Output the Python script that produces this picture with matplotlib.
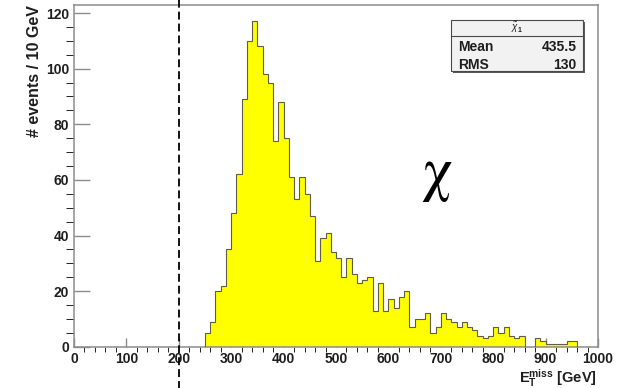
import numpy as np

from matplotlib import pyplot as plt
from matplotlib.patches import Rectangle
from matplotlib.ticker import MultipleLocator

# Missing transverse energy spectrum, 10 GeV bins starting at 250 GeV.
binStart = 250
binWidth = 10
counts = [5, 9, 20, 22, 35, 48, 62, 89, 110, 117,
          108, 98, 95, 74, 88, 75, 61, 53, 61, 55,
          47, 31, 39, 41, 34, 32, 25, 32, 26, 23,
          24, 25, 13, 23, 13, 17, 14, 18, 20, 7,
          10, 10, 12, 5, 7, 12, 10, 9, 7, 9,
          7, 6, 4, 3, 4, 7, 5, 7, 4, 3,
          4, 0, 0, 3, 2, 1, 1, 1, 1, 2,
          2]

cutValue = 200
statsTitle = r"$\tilde{\chi}_1$"
statsNames = ["Mean", "RMS"]
statsValues = ["435.5", "130"]

xRange = (0, 1000)
yRange = (0, 123)

frameColor = '#8c8c8c'
textColor = '#1e1e1e'


def binEdges(start, width, n):
    return start + width * np.arange(n + 1)


def drawStatsBox(ax):
    # box sits in the upper right corner, drawn in axes fractions
    x0, x1 = 0.7195, 0.9714
    y0, y1 = 0.8061, 0.9553
    ySplit = 0.9094
    ax.add_patch(Rectangle((x0 + 0.004, y0 - 0.006), x1 - x0, y1 - y0, transform=ax.transAxes,
                           facecolor='#5a5a5a', edgecolor='none', zorder=5, clip_on=False))
    ax.add_patch(Rectangle((x0, y0), x1 - x0, y1 - y0, transform=ax.transAxes,
                           facecolor='#f2f2f2', edgecolor='#4a4a4a', linewidth=0.8, zorder=6, clip_on=False))
    ax.plot([x0, x1], [ySplit, ySplit], transform=ax.transAxes, color='#4a4a4a', linewidth=0.8,
            zorder=7, clip_on=False)
    ax.text((x0 + x1) / 2, (ySplit + y1) / 2, statsTitle, transform=ax.transAxes, ha='center', va='center',
            fontsize=7, color=textColor, zorder=8)
    rowY = [0.875, 0.823]
    for name, value, y in zip(statsNames, statsValues, rowY):
        ax.text(x0 + 0.013, y, name, transform=ax.transAxes, ha='left', va='center',
                fontsize=10, fontweight='bold', color=textColor, zorder=8)
        ax.text(x1 - 0.012, y, value, transform=ax.transAxes, ha='right', va='center',
                fontsize=10, fontweight='bold', color=textColor, zorder=8)


def main():
    plt.rcParams['font.family'] = ['Liberation Sans', 'DejaVu Sans']
    plt.rcParams['mathtext.fontset'] = 'custom'
    plt.rcParams['mathtext.rm'] = 'Liberation Sans:bold'
    plt.rcParams['mathtext.bf'] = 'Liberation Sans:bold'
    plt.rcParams['mathtext.it'] = 'Liberation Sans:italic'

    fig = plt.figure(figsize=(6.32, 3.88), dpi=100)
    ax = fig.add_axes([0.1171, 0.1064, 0.8291, 0.8814])

    edges = binEdges(binStart, binWidth, len(counts))
    ax.stairs(counts, edges, fill=True, color='#ffff00', zorder=2)
    ax.stairs(counts, edges, baseline=0, color='#5e5e48', linewidth=0.8, zorder=3)

    ax.set_xlim(*xRange)
    ax.set_ylim(*yRange)

    for side in ax.spines.values():
        side.set_color(frameColor)
        side.set_linewidth(1.1)

    ax.xaxis.set_major_locator(MultipleLocator(100))
    ax.xaxis.set_minor_locator(MultipleLocator(20))
    ax.yaxis.set_major_locator(MultipleLocator(20))
    ax.yaxis.set_minor_locator(MultipleLocator(5))
    ax.tick_params(direction='in', color=frameColor, labelcolor=textColor, labelsize=10, width=1.0)
    ax.tick_params(axis='x', which='major', length=6.5, pad=4.0)
    ax.tick_params(axis='x', which='minor', length=3.6)
    ax.tick_params(axis='y', which='major', length=11.5, pad=3.5)
    ax.tick_params(axis='y', which='minor', length=5.8)
    for lab in ax.get_xticklabels() + ax.get_yticklabels():
        lab.set_fontweight('bold')

    ax.text(-0.076, 1.0, "# events / 10 GeV", transform=ax.transAxes, rotation=90, ha='center', va='top',
            fontsize=11.5, fontweight='bold', color=textColor)
    ax.text(0.998, -0.124, r"$\mathrm{E}_{\mathrm{T}}^{\mathrm{miss}}$ [GeV]", transform=ax.transAxes,
            ha='right', va='bottom', fontsize=10.5, fontweight='bold', color=textColor)

    drawStatsBox(ax)

    ax.text(0.693, 0.50, r"$\mathrm{\chi}$", transform=ax.transAxes, ha='center', va='center',
            fontsize=44, math_fontfamily='stix', color='black', zorder=4)

    # cut line runs across the whole picture, not only the frame
    ax.axvline(cutValue, ymin=-0.125, ymax=1.02, color='black', linewidth=1.3, dashes=(4.4, 2.2),
               clip_on=False, zorder=10)

    fig.savefig('out.png', dpi=100)


if __name__ == "__main__":
    main()
